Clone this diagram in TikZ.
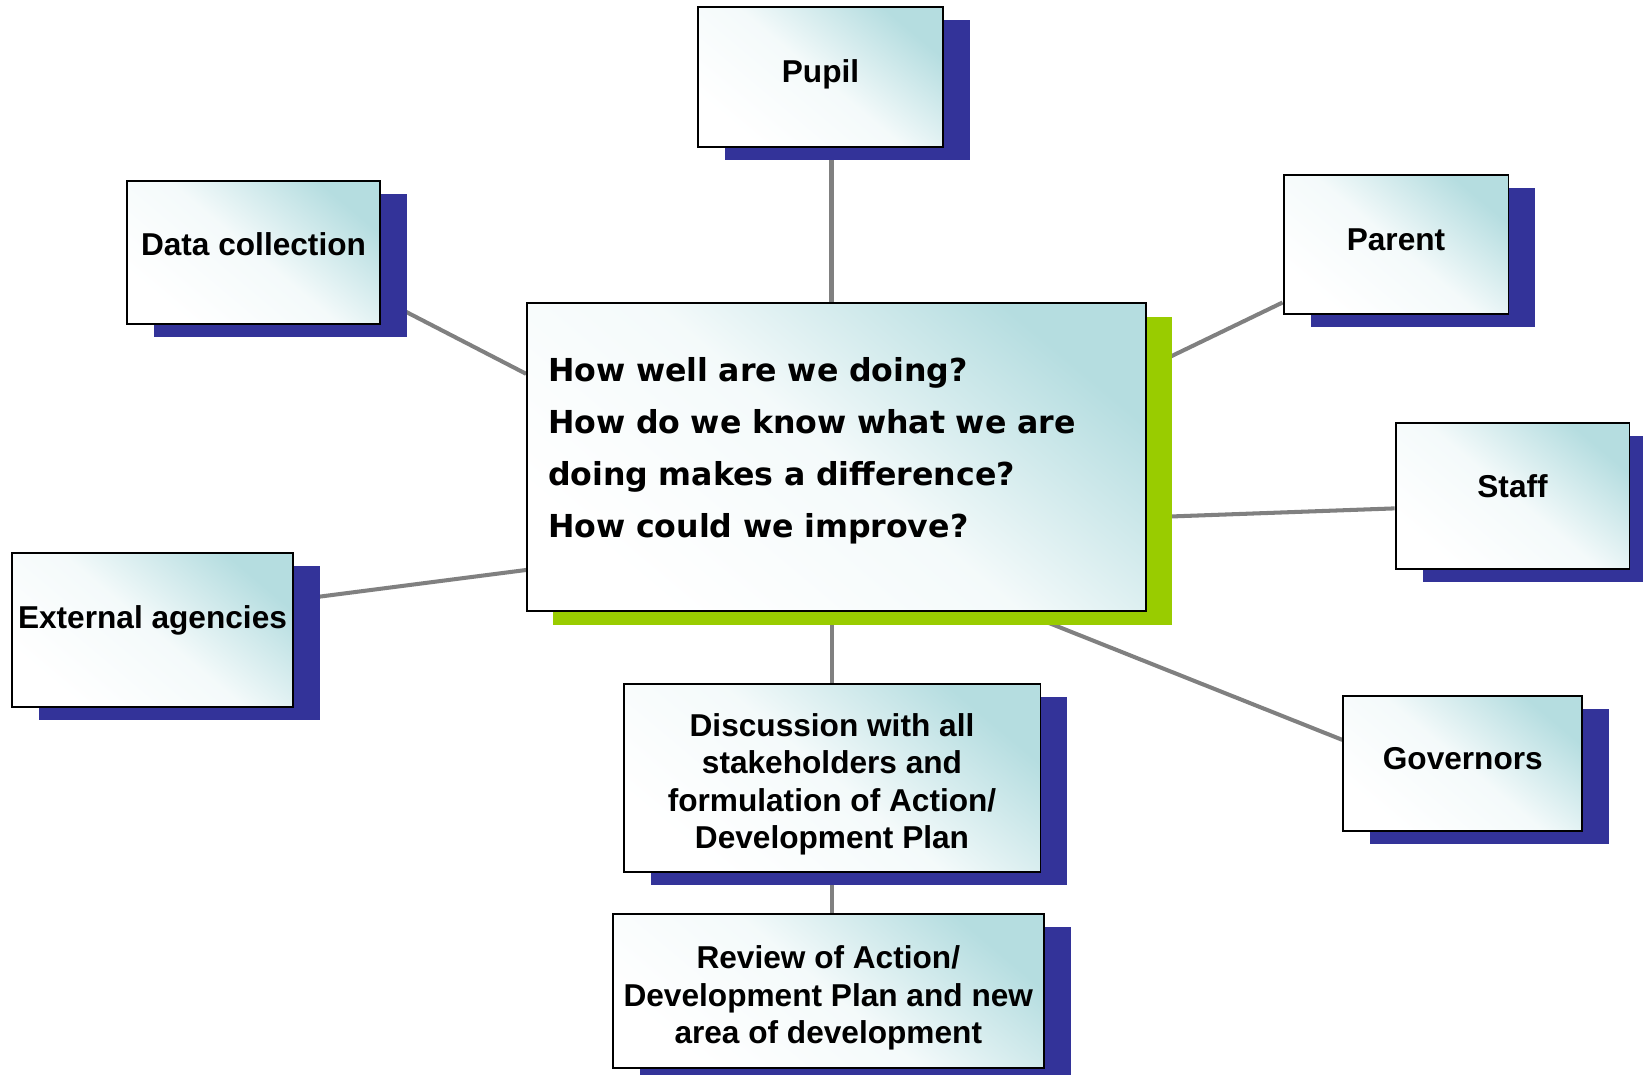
\documentclass[tikz,border=0pt]{standalone}
\usepackage{fontspec}
\setmainfont{Liberation Sans}
\newfontfamily\askfont{DejaVu Sans}
\usetikzlibrary{shadows}
\usetikzlibrary{backgrounds}

\definecolor{boxteal}{RGB}{181,221,224}
\definecolor{shadowblue}{RGB}{51,51,153}
\definecolor{shadowgreen}{RGB}{153,204,0}
\definecolor{linkgrey}{RGB}{128,128,128}

\begin{document}
\begin{tikzpicture}[x=0.02cm, y=-0.02cm,
        card/.style={draw=black, line width=1.1pt, top color=boxteal, bottom color=white,
            middle color=white!85!boxteal, shading angle=-40, inner sep=2pt},
        stake/.style={card, align=center, font=\fontsize{18}{21.2}\selectfont\bfseries,
            general shadow={fill=shadowblue, shadow xshift=0.54cm, shadow yshift=-0.26cm}},
        question/.style={card, align=left, inner xsep=0.42cm, font=\askfont\fontsize{18}{29.6}\selectfont\bfseries,
            general shadow={fill=shadowgreen, shadow xshift=0.52cm, shadow yshift=-0.28cm}},
        link/.style={draw=linkgrey, line width=2.3pt}]
                \useasboundingbox (0,0) rectangle (1643,1075);
                \node[question, text width=11.54cm, minimum height=6.16cm] (centre) at (836.5,457)
                    {How well are we doing?\\ How do we know what we are\\ doing makes a difference?\\ How could we improve?\rule[-0.4cm]{0pt}{0pt}};
                \node[stake, text depth=0.23cm, minimum width=4.9cm, minimum height=2.8cm] (pupil) at (820.5,77) {Pupil};
                \node[stake, text depth=0.34cm, minimum width=5.06cm, minimum height=2.86cm] (data) at (253.5,252.5) {Data collection};
                \node[stake, text depth=0.19cm, minimum width=4.5cm, minimum height=2.78cm] (parent) at (1396,244.7) {Parent};
                \node[stake, text depth=0.4cm, minimum width=4.68cm, minimum height=2.92cm] (staff) at (1512.5,496) {Staff};
                \node[stake, text depth=0.19cm, minimum width=4.78cm, minimum height=2.7cm] (governors) at (1462.8,763.3) {Governors};
                \node[stake, text depth=0.5cm, minimum width=5.62cm, minimum height=3.08cm] (external) at (152.5,630) {External agencies};
                \node[stake, minimum width=8.34cm, minimum height=3.76cm] (discussion) at (832,778)
                    {\rule{0pt}{0.71cm}Discussion with all\\ stakeholders and\\ formulation of Action/\\ Development Plan};
                \node[stake, minimum width=8.62cm, minimum height=3.08cm] (review) at (828.3,990.7)
                    {\rule{0pt}{0.75cm}Review of Action/\\ Development Plan and new\\ area of development};
                % connectors sit under the boxes
                \begin{scope}[on background layer]
                    \draw[link] ([xshift=-0.1cm]centre.north) -- ([xshift=-0.1cm]centre.north |- pupil.south);
                    \draw[link] (data.-20) -- (centre.165);
                    \draw[link] (parent.207) -- (centre.16);
                    \draw[link] (staff.186) -- (centre.-11);
                    \draw[link] (governors.169) -- (centre.-40);
                    \draw[link] (external.12) -- (centre.200);
                    \draw[link] (centre.south -| discussion.north) -- (discussion.north);
                    \draw[link] (discussion.south) -- (discussion.south |- review.north);
                \end{scope}
            \end{tikzpicture}
\end{document}
